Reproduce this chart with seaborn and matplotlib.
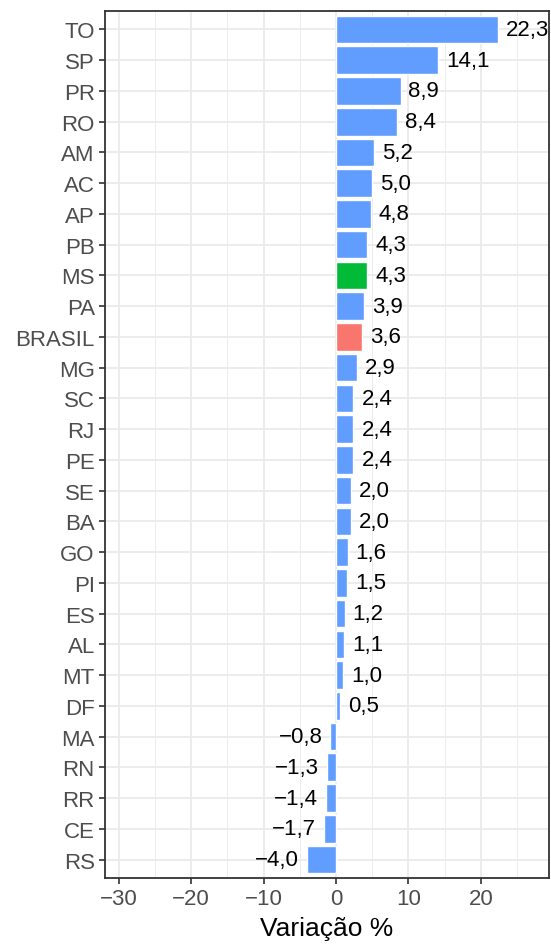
import pandas as pd
import matplotlib.pyplot as plt
import seaborn as sns
from matplotlib.ticker import MultipleLocator, FuncFormatter

estados = ["TO", "SP", "PR", "RO", "AM", "AC", "AP", "PB", "MS", "PA", "BRASIL",
           "MG", "SC", "RJ", "PE", "SE", "BA", "GO", "PI", "ES", "AL", "MT", "DF",
           "MA", "RN", "RR", "CE", "RS"]
variacao = [22.3, 14.1, 8.9, 8.4, 5.2, 5.0, 4.8, 4.3, 4.3, 3.9, 3.6,
            2.9, 2.4, 2.4, 2.4, 2.0, 2.0, 1.6, 1.5, 1.2, 1.1, 1.0, 0.5,
            -0.8, -1.3, -1.4, -1.7, -4.0]
grupo = ["MS" if e == "MS" else ("BRASIL" if e == "BRASIL" else "outros") for e in estados]
cores = {"outros": "#619CFF", "MS": "#00BA38", "BRASIL": "#F8766D"}


def fmt(v):
    s = f"{abs(v):.1f}".replace(".", ",")
    return ("\u2212" + s) if v < 0 else s


def main():
    df = pd.DataFrame({"estado": estados, "variacao": variacao, "grupo": grupo})
    sns.set_style("white")
    plt.rcParams["font.family"] = ["Liberation Sans", "DejaVu Sans"]

    fig = plt.figure(figsize=(5.51, 9.45), dpi=100)
    ax = fig.add_axes([105 / 551, 1 - 879 / 945, 444 / 551, (879 - 12) / 945])
    sns.barplot(data=df, x="variacao", y="estado", hue="grupo", palette=cores,
                order=estados, legend=False, width=0.9, saturation=1, dodge=False, ax=ax)

    for i, v in enumerate(variacao):
        if v >= 0:
            ax.text(v + 1.1, i, fmt(v), ha="left", va="center", fontsize=16, color="black")
        else:
            ax.text(v - 1.1, i, fmt(v), ha="right", va="center", fontsize=16, color="black")

    ax.set_xlim(-31.9, 29.4)
    ax.set_ylim(len(estados) - 0.4, -0.6)
    ax.xaxis.set_major_locator(MultipleLocator(10))
    ax.xaxis.set_minor_locator(MultipleLocator(5))
    ax.xaxis.set_major_formatter(FuncFormatter(lambda x, p: f"{x:.0f}".replace("-", "\u2212")))
    ax.set_axisbelow(True)
    ax.grid(which="major", color="#EBEBEB", linewidth=1.3)
    ax.grid(which="minor", axis="x", color="#EBEBEB", linewidth=0.65)
    ax.tick_params(axis="both", which="major", length=4.3, width=1.2, color="#333333",
                   labelsize=16, labelcolor="#4D4D4D", pad=3, direction="out",
                   bottom=True, left=True)
    ax.tick_params(which="minor", length=0)
    for s in ax.spines.values():
        s.set_color("#333333")
        s.set_linewidth(1.3)
    ax.set_xlabel("Variação %", fontsize=19, color="black", labelpad=5)
    ax.set_ylabel("")
    fig.savefig("out.png", dpi=100)


if __name__ == "__main__":
    main()
